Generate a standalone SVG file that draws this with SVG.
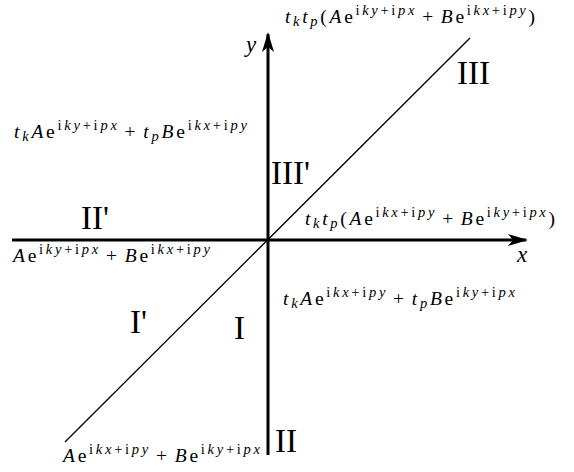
<svg xmlns="http://www.w3.org/2000/svg" width="574" height="472" viewBox="0 0 574 472">
<defs>
<style>
text{font-family:"Liberation Serif","Times New Roman",serif;fill:#000}
.f{font-size:19.5px}
.i{font-style:italic}
.s{font-size:14.5px}
.L{font-size:33px}
.ax{stroke:#000;stroke-width:3;fill:none}
.dg{stroke:#000;stroke-width:1.3;fill:none}
</style>
<marker id="ah" viewBox="0 0 20 12" refX="18" refY="6" markerWidth="20" markerHeight="12" markerUnits="userSpaceOnUse" orient="auto">
<path d="M0,0 L20,6 L0,12 L5,6 Z" fill="#000"/>
</marker>
</defs>
<g id="connectors">
<line id="diag" class="dg" x1="65" y1="442" x2="470" y2="38"/>
<line id="xaxis" class="ax" x1="12" y1="240" x2="526" y2="240" marker-end="url(#ah)"/>
<line id="yaxis" class="ax" x1="268" y1="455" x2="268" y2="34" marker-end="url(#ah)"/>
</g>
<g id="axis-labels">
<text class="i" x="246" y="52" font-size="23">y</text>
<text class="i" x="517" y="262" font-size="23">x</text>
</g>
<g id="region-labels">
<text class="L" x="457" y="84">III</text>
<text class="L" x="271" y="184">III'</text>
<text class="L" x="81" y="229">II'</text>
<text class="L" x="130" y="333">I'</text>
<text class="L" x="234" y="339">I</text>
<text class="L" x="275" y="452">II</text>
</g>
<g id="expr-III">
<text class="f" x="285" y="23" textLength="250"><tspan class="i">t</tspan><tspan class="s i" dy="3">k</tspan><tspan class="i" dy="-3">t</tspan><tspan class="s i" dy="3">p</tspan><tspan dy="-3">(</tspan><tspan class="i">A</tspan>e<tspan class="s" dy="-8">i<tspan class="i">ky</tspan>+i<tspan class="i">px</tspan></tspan><tspan dy="8" dx="5">+</tspan><tspan class="i" dx="5">B</tspan>e<tspan class="s" dy="-8">i<tspan class="i">kx</tspan>+i<tspan class="i">py</tspan></tspan><tspan dy="8">)</tspan></text>
</g>
<g id="expr-IIIp">
<text class="f" x="14" y="138" textLength="233"><tspan class="i">t</tspan><tspan class="s i" dy="3">k</tspan><tspan class="i" dy="-3">A</tspan>e<tspan class="s" dy="-8">i<tspan class="i">ky</tspan>+i<tspan class="i">px</tspan></tspan><tspan dy="8" dx="5">+</tspan><tspan class="i" dx="5">t</tspan><tspan class="s i" dy="3">p</tspan><tspan class="i" dy="-3">B</tspan>e<tspan class="s" dy="-8">i<tspan class="i">kx</tspan>+i<tspan class="i">py</tspan></tspan></text>
</g>
<g id="expr-x">
<text class="f" x="305" y="225" textLength="250"><tspan class="i">t</tspan><tspan class="s i" dy="3">k</tspan><tspan class="i" dy="-3">t</tspan><tspan class="s i" dy="3">p</tspan><tspan dy="-3">(</tspan><tspan class="i">A</tspan>e<tspan class="s" dy="-8">i<tspan class="i">kx</tspan>+i<tspan class="i">py</tspan></tspan><tspan dy="8" dx="5">+</tspan><tspan class="i" dx="5">B</tspan>e<tspan class="s" dy="-8">i<tspan class="i">ky</tspan>+i<tspan class="i">px</tspan></tspan><tspan dy="8">)</tspan></text>
</g>
<g id="expr-IIp">
<text class="f" x="13" y="262" textLength="197"><tspan class="i">A</tspan>e<tspan class="s" dy="-8">i<tspan class="i">ky</tspan>+i<tspan class="i">px</tspan></tspan><tspan dy="8" dx="5">+</tspan><tspan class="i" dx="5">B</tspan>e<tspan class="s" dy="-8">i<tspan class="i">kx</tspan>+i<tspan class="i">py</tspan></tspan></text>
</g>
<g id="expr-I">
<text class="f" x="283" y="305" textLength="232"><tspan class="i">t</tspan><tspan class="s i" dy="3">k</tspan><tspan class="i" dy="-3">A</tspan>e<tspan class="s" dy="-8">i<tspan class="i">kx</tspan>+i<tspan class="i">py</tspan></tspan><tspan dy="8" dx="5">+</tspan><tspan class="i" dx="5">t</tspan><tspan class="s i" dy="3">p</tspan><tspan class="i" dy="-3">B</tspan>e<tspan class="s" dy="-8">i<tspan class="i">ky</tspan>+i<tspan class="i">px</tspan></tspan></text>
</g>
<g id="expr-Ip">
<text class="f" x="63" y="462" textLength="197"><tspan class="i">A</tspan>e<tspan class="s" dy="-8">i<tspan class="i">kx</tspan>+i<tspan class="i">py</tspan></tspan><tspan dy="8" dx="5">+</tspan><tspan class="i" dx="5">B</tspan>e<tspan class="s" dy="-8">i<tspan class="i">ky</tspan>+i<tspan class="i">px</tspan></tspan></text>
</g>
</svg>
